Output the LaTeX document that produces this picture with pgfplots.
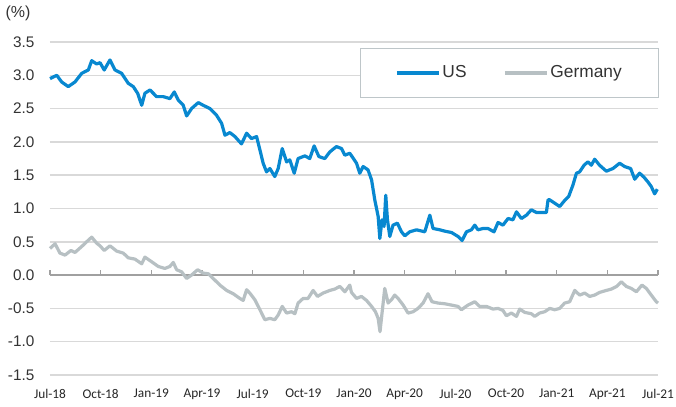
\documentclass[border=0pt]{standalone}
\usepackage{fontspec}
\setmainfont{Liberation Sans}
\newfontfamily\calibri{Carlito}
\usepackage{pgfplots}
\pgfplotsset{compat=1.18}
\usetikzlibrary{calc}
\definecolor{usblue}{RGB}{8,136,208}
\definecolor{degray}{RGB}{183,192,195}
\definecolor{gridgray}{RGB}{217,217,217}
\definecolor{zerogray}{RGB}{160,160,160}
\definecolor{legendgray}{RGB}{190,198,201}

\begin{document}
\begin{tikzpicture}
\begin{axis}[
  width=456pt, height=249.75pt, scale only axis,
  xmin=0, xmax=36, ymin=-1.5, ymax=3.5,
  axis line style={draw=none},
  major tick length=0pt,
  ymajorgrids, grid style={gridgray, line width=1.1pt},
  ytick={-1.5,-1,-0.5,0,0.5,1,1.5,2,2.5,3,3.5},
  yticklabels={-1.5,-1.0,-0.5,0.0,0.5,1.0,1.5,2.0,2.5,3.0,3.5},
  yticklabel style={font=\fontsize{11.5}{13}\selectfont, color=black!80, anchor=east, inner sep=0pt, xshift=-11.5pt},
  xtick={0,3,...,36},
  xticklabels={Jul-18,Oct-18,Jan-19,Apr-19,Jul-19,Oct-19,Jan-20,Apr-20,Jul-20,Oct-20,Jan-21,Apr-21,Jul-21},
  xticklabel style={font=\calibri\fontsize{10}{12}\selectfont, color=black!85, anchor=north, inner sep=0pt, yshift=-10.5pt},
  clip=false,
  legend columns=2,
  legend style={at={(rel axis cs:1.0015,0.982)}, anchor=north east, draw=legendgray, line width=0.8pt,
    font=\fontsize{13}{15}\selectfont, text=black!80, inner xsep=26pt, inner ysep=11.5pt,
    nodes={inner sep=1.5pt},
    /tikz/every even column/.append style={column sep=26pt}},
  legend image code/.code={\draw[#1] (0pt,0pt) -- (31.5pt,0pt);},
]
\coordinate (SW) at (rel axis cs:0,0);
\coordinate (NE) at (rel axis cs:1,1);
\coordinate (NW) at (rel axis cs:0,1);
\addplot[zerogray, line width=1pt, forget plot] coordinates {(0,0) (36,0)};
\addplot[zerogray, line width=1pt, ycomb, forget plot] coordinates {(0,0.08) (3,0.08) (6,0.08) (9,0.08) (12,0.08) (15,0.08) (18,0.08) (21,0.08) (24,0.08) (27,0.08) (30,0.08) (33,0.08) (36,0.08)};
\addplot[usblue, line width=2.4pt, line join=round] table {
0.00 2.95
0.40 3.00
0.69 2.90
1.08 2.83
1.48 2.90
1.88 3.03
2.27 3.08
2.47 3.22
2.76 3.17
2.96 3.19
3.21 3.08
3.55 3.23
3.85 3.08
4.24 3.03
4.63 2.88
4.93 2.83
5.19 2.73
5.43 2.55
5.62 2.73
5.92 2.78
6.31 2.68
6.70 2.68
7.10 2.65
7.36 2.75
7.59 2.63
7.89 2.55
8.09 2.39
8.38 2.50
8.78 2.59
9.07 2.55
9.47 2.50
9.86 2.40
10.16 2.28
10.36 2.10
10.65 2.14
10.95 2.08
11.34 1.97
11.64 2.13
11.93 2.05
12.23 2.08
12.43 1.88
12.62 1.68
12.82 1.55
13.02 1.60
13.31 1.48
13.51 1.60
13.75 1.90
14.01 1.70
14.20 1.73
14.46 1.53
14.69 1.75
15.09 1.79
15.38 1.75
15.64 1.94
15.92 1.78
16.27 1.75
16.57 1.85
16.96 1.93
17.26 1.90
17.46 1.80
17.75 1.83
18.15 1.68
18.34 1.53
18.54 1.63
18.83 1.58
19.04 1.43
19.23 1.13
19.43 0.88
19.53 0.55
19.66 0.83
19.78 0.73
19.88 1.20
19.98 0.83
20.12 0.58
20.31 0.75
20.57 0.78
20.81 0.65
21.01 0.59
21.30 0.65
21.70 0.68
22.19 0.65
22.49 0.90
22.68 0.70
23.08 0.68
23.37 0.66
23.77 0.64
24.16 0.58
24.40 0.52
24.66 0.65
24.95 0.68
25.15 0.75
25.34 0.68
25.64 0.70
25.93 0.70
26.29 0.65
26.53 0.79
26.82 0.75
27.12 0.85
27.41 0.83
27.62 0.95
27.91 0.85
28.21 0.90
28.50 0.98
28.80 0.94
29.19 0.94
29.39 0.94
29.49 1.13
29.59 1.13
29.88 1.08
30.18 1.03
30.47 1.12
30.71 1.18
30.96 1.35
31.17 1.53
31.36 1.55
31.62 1.65
31.85 1.70
32.05 1.65
32.25 1.74
32.54 1.65
32.94 1.56
33.33 1.60
33.73 1.68
34.02 1.63
34.38 1.60
34.62 1.44
34.91 1.53
35.17 1.47
35.40 1.40
35.60 1.33
35.80 1.22
35.96 1.29
};
\addlegendentry{US}
\addplot[degray, line width=2.4pt, line join=round] table {
0.00 0.40
0.30 0.47
0.59 0.33
0.89 0.30
1.24 0.37
1.48 0.34
1.88 0.43
2.17 0.50
2.47 0.57
2.76 0.48
2.96 0.44
3.21 0.37
3.55 0.44
3.95 0.36
4.34 0.33
4.63 0.26
5.03 0.24
5.43 0.17
5.62 0.27
6.02 0.20
6.41 0.13
6.80 0.10
7.10 0.13
7.30 0.19
7.50 0.08
7.79 0.05
8.09 -0.05
8.38 0.00
8.74 0.08
9.07 0.03
9.37 0.02
9.66 -0.05
10.06 -0.15
10.46 -0.23
10.85 -0.28
11.24 -0.35
11.44 -0.38
11.64 -0.22
11.83 -0.27
12.13 -0.37
12.43 -0.52
12.72 -0.67
13.02 -0.65
13.31 -0.67
13.51 -0.60
13.75 -0.47
14.01 -0.57
14.30 -0.55
14.50 -0.58
14.69 -0.42
14.99 -0.35
15.28 -0.35
15.58 -0.23
15.84 -0.32
16.17 -0.27
16.57 -0.23
16.86 -0.21
17.16 -0.17
17.46 -0.25
17.75 -0.15
17.85 -0.26
18.15 -0.35
18.44 -0.32
18.74 -0.38
19.04 -0.47
19.27 -0.55
19.43 -0.65
19.54 -0.85
19.66 -0.57
19.82 -0.20
20.02 -0.42
20.22 -0.37
20.41 -0.30
20.61 -0.35
20.91 -0.45
21.20 -0.57
21.50 -0.55
21.79 -0.50
22.09 -0.42
22.38 -0.28
22.62 -0.40
22.98 -0.42
23.37 -0.43
23.77 -0.45
24.16 -0.47
24.36 -0.52
24.75 -0.45
25.15 -0.40
25.44 -0.47
25.84 -0.47
26.23 -0.51
26.53 -0.50
26.82 -0.53
27.02 -0.61
27.32 -0.57
27.62 -0.62
27.81 -0.51
28.11 -0.56
28.50 -0.58
28.70 -0.62
28.99 -0.57
29.29 -0.55
29.59 -0.50
29.88 -0.52
30.18 -0.50
30.47 -0.42
30.77 -0.40
31.07 -0.23
31.36 -0.30
31.66 -0.27
31.95 -0.32
32.25 -0.30
32.54 -0.26
32.94 -0.23
33.24 -0.21
33.55 -0.17
33.83 -0.10
34.12 -0.17
34.42 -0.20
34.72 -0.25
35.05 -0.15
35.31 -0.20
35.60 -0.30
35.90 -0.40
36.00 -0.42
};
\addlegendentry{Germany}
\end{axis}
\node[font=\fontsize{12}{14}\selectfont, text=black!80] at ($(NW)+(-24pt,21.75pt)$) {(\%)};
\pgfresetboundingbox
\path[use as bounding box] ($(SW)+(-37.5pt,-23.25pt)$) rectangle ($(NE)+(13.5pt,31.5pt)$);
\end{tikzpicture}
\end{document}
